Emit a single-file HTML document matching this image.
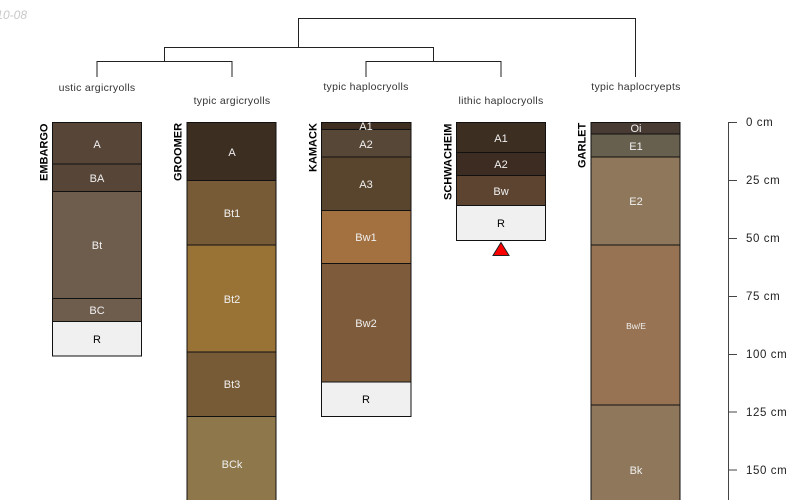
<!DOCTYPE html>
<html><head><meta charset="utf-8"><style>
html,body{margin:0;padding:0;background:#fff}
svg{display:block}
text{font-family:"Liberation Sans",sans-serif}
.h{font-size:11px;fill:#f0f0f0;text-anchor:middle}
.t{font-size:10.5px;fill:#333;text-anchor:middle;letter-spacing:.3px}
.n{font-size:11px;font-weight:bold;fill:#000}
.a{font-size:11.5px;fill:#222;letter-spacing:.6px}
</style></head><body>
<svg width="800" height="500" viewBox="0 0 800 500" xmlns="http://www.w3.org/2000/svg">
<text x="27" y="19" font-size="12" font-style="italic" fill="#c8c8c8" text-anchor="end">2010-08</text>
<g fill="none" stroke="#222" stroke-width="1">
<path d="M298.5 47V18.5H635.5V77"/>
<path d="M164.5 62V47.5H433.5V62"/>
<path d="M97 77V61.5H232V77"/>
<path d="M366 77V61.5H501V77"/>
</g>
<text class="t" x="97" y="91">ustic argicryolls</text>
<text class="t" x="232" y="104">typic argicryolls</text>
<text class="t" x="366" y="90">typic haplocryolls</text>
<text class="t" x="501" y="104">lithic haplocryolls</text>
<text class="t" x="636" y="90">typic haplocryepts</text>

<g stroke="#111" stroke-width="1">
<rect x="52.5" y="122.5" width="89" height="41.5" fill="#574538"/>
<rect x="52.5" y="164" width="89" height="27.5" fill="#574538"/>
<rect x="52.5" y="191.5" width="89" height="107" fill="#6e5c4d"/>
<rect x="52.5" y="298.5" width="89" height="23" fill="#6e5c4d"/>
<rect x="52.5" y="321.5" width="89" height="34.5" fill="#f0f0f0"/>

<rect x="187" y="122.5" width="89" height="58" fill="#3c2e21"/>
<rect x="187" y="180.5" width="89" height="64.5" fill="#775a36"/>
<rect x="187" y="245" width="89" height="107" fill="#997336"/>
<rect x="187" y="352" width="89" height="64.5" fill="#775a36"/>
<rect x="187" y="416.5" width="89" height="90" fill="#8e774b"/>

<rect x="321.5" y="122.5" width="89.5" height="7" fill="#3f2f20"/>
<rect x="321.5" y="129.5" width="89.5" height="27.5" fill="#574737"/>
<rect x="321.5" y="157" width="89.5" height="53.5" fill="#59452d"/>
<rect x="321.5" y="210.5" width="89.5" height="53" fill="#a37040"/>
<rect x="321.5" y="263.5" width="89.5" height="118.5" fill="#7e5b3b"/>
<rect x="321.5" y="382" width="89.5" height="34.5" fill="#f0f0f0"/>

<rect x="456.5" y="122.5" width="89" height="30" fill="#3c2e21"/>
<rect x="456.5" y="152.5" width="89" height="23" fill="#3c2c22"/>
<rect x="456.5" y="175.5" width="89" height="30" fill="#5c4431"/>
<rect x="456.5" y="205.5" width="89" height="35" fill="#f0f0f0"/>

<rect x="591" y="122.5" width="89" height="11.5" fill="#473b33"/>
<rect x="591" y="134" width="89" height="23" fill="#67604f"/>
<rect x="591" y="157" width="89" height="88" fill="#8e775a"/>
<rect x="591" y="245" width="89" height="160" fill="#987353"/>
<rect x="591" y="405" width="89" height="100" fill="#8e775a"/>
</g>
<polygon points="501,242.5 509,255.5 493,255.5" fill="#f00" stroke="#222" stroke-width="1"/>

<text class="h" x="97" y="148">A</text>
<text class="h" x="97" y="182">BA</text>
<text class="h" x="97" y="249">Bt</text>
<text class="h" x="97" y="314">BC</text>
<text class="h" x="97" y="343" style="fill:#000">R</text>

<text class="h" x="232" y="156">A</text>
<text class="h" x="232" y="217">Bt1</text>
<text class="h" x="232" y="303">Bt2</text>
<text class="h" x="232" y="388">Bt3</text>
<text class="h" x="232" y="468">BCk</text>

<text class="h" x="366" y="130">A1</text>
<text class="h" x="366" y="148">A2</text>
<text class="h" x="366" y="188">A3</text>
<text class="h" x="366" y="241">Bw1</text>
<text class="h" x="366" y="327">Bw2</text>
<text class="h" x="366" y="403" style="fill:#000">R</text>

<text class="h" x="501" y="142">A1</text>
<text class="h" x="501" y="168">A2</text>
<text class="h" x="501" y="195">Bw</text>
<text class="h" x="501" y="227" style="fill:#000">R</text>

<text class="h" x="636" y="132">Oi</text>
<text class="h" x="636" y="150">E1</text>
<text class="h" x="636" y="205">E2</text>
<text class="h" x="636" y="329" style="font-size:8.5px">Bw/E</text>
<text class="h" x="636" y="474">Bk</text>

<text class="n" transform="translate(47.5,181) rotate(-90)">EMBARGO</text>
<text class="n" transform="translate(181.5,181) rotate(-90)">GROOMER</text>
<text class="n" transform="translate(316.5,172) rotate(-90)">KAMACK</text>
<text class="n" transform="translate(451.5,200) rotate(-90)">SCHWACHEIM</text>
<text class="n" transform="translate(585.5,168) rotate(-90)">GARLET</text>

<g fill="none" stroke="#444" stroke-width="1">
<path d="M737 122.5H728.5V500"/>
<path d="M728.5 180.5H737M728.5 238.5H737M728.5 296.5H737M728.5 354.5H737M728.5 412H737M728.5 470H737"/>
</g>
<text class="a" x="746" y="126">0 cm</text>
<text class="a" x="746" y="184">25 cm</text>
<text class="a" x="746" y="242">50 cm</text>
<text class="a" x="746" y="300">75 cm</text>
<text class="a" x="746" y="358">100 cm</text>
<text class="a" x="746" y="416">125 cm</text>
<text class="a" x="746" y="474">150 cm</text>
</svg>
</body></html>
